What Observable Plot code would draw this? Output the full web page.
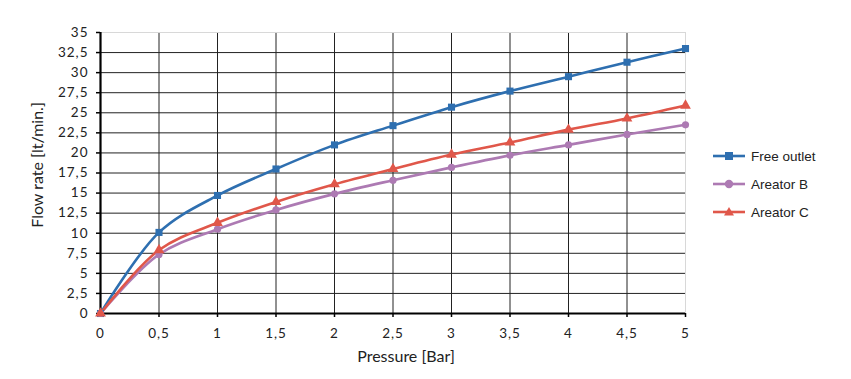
<!DOCTYPE html>
<html>
<head>
<meta charset="utf-8">
<script src="https://cdn.jsdelivr.net/npm/d3@7"></script>
<script src="https://cdn.jsdelivr.net/npm/@observablehq/plot@0.6"></script>
<style>
  html, body { margin: 0; padding: 0; background: #fff; }
  #wrap { position: relative; width: 851px; height: 379px; }
  #legend { position: absolute; left: 713px; top: 142px; font-family: "Liberation Sans", Arial, sans-serif; font-size: 13.5px; color: #222; }
  .row { display: flex; align-items: center; height: 28px; }
  .row svg { margin-right: 6px; }
  g[aria-label="x-axis tick label"] text, g[aria-label="y-axis tick label"] text { letter-spacing: 1px; }
</style>
</head>
<body>
<div id="wrap"><div id="legend"></div></div>
<script>
const pressure   = [0, 0.5, 1, 1.5, 2, 2.5, 3, 3.5, 4, 4.5, 5];
const freeOutlet = [0, 10.1, 14.7, 18.0, 21.0, 23.4, 25.7, 27.7, 29.5, 31.3, 33.0];
const areatorB   = [0, 7.35, 10.5, 12.9, 14.9, 16.6, 18.2, 19.7, 21.0, 22.3, 23.5];
const areatorC   = [0, 7.9, 11.3, 13.9, 16.1, 18.0, 19.8, 21.3, 22.9, 24.3, 25.9];
const seriesNames = ["Free outlet", "Areator B", "Areator C"];
const seriesColors = ["#2e6fb0", "#ad7ab3", "#e0574a"];
const seriesSymbols = ["square", "circle", "triangle"];
const xTicks = [0, 0.5, 1, 1.5, 2, 2.5, 3, 3.5, 4, 4.5, 5];
const yTicks = [0, 2.5, 5, 7.5, 10, 12.5, 15, 17.5, 20, 22.5, 25, 27.5, 30, 32.5, 35];
const xLabel = "Pressure [Bar]";
const yLabel = "Flow rate [lt/min.]";

const seriesValues = [freeOutlet, areatorB, areatorC];
const data = seriesValues.flatMap((vals, i) =>
  pressure.map((p, j) => ({ series: seriesNames[i], x: p, y: vals[j] })));
const fmt = d => String(d).replace(".", ",");

const chart = Plot.plot({
  width: 851,
  height: 379,
  marginLeft: 100,
  marginRight: 166,
  marginTop: 32,
  marginBottom: 66,
  style: { fontFamily: "Lato, sans-serif", fontSize: "13.5px", color: "#222", background: "#fff" },
  x: { domain: [0, 5], ticks: xTicks, tickFormat: fmt, label: null },
  y: { domain: [0, 35], ticks: yTicks, tickFormat: fmt, label: null },
  marks: [
    Plot.gridX(xTicks.filter(d => d > 0 && d < 5), { stroke: "#222", strokeOpacity: 1, strokeWidth: 1 }),
    Plot.gridY(yTicks.filter(d => d > 0 && d < 35), { stroke: "#222", strokeOpacity: 1, strokeWidth: 1 }),
    Plot.ruleY([35], { stroke: "#d8d8d8", strokeWidth: 1 }),
    Plot.ruleX([5], { stroke: "#d8d8d8", strokeWidth: 1 }),
    Plot.axisX({ ticks: xTicks, tickFormat: fmt, tickSize: 4, tickPadding: 11, stroke: "#000", strokeWidth: 1.5, label: null }),
    Plot.axisY({ ticks: yTicks, tickFormat: fmt, tickSize: 4, tickPadding: 8, stroke: "#000", strokeWidth: 1.5, label: null }),
    Plot.ruleX([0], { stroke: "#000", strokeWidth: 2.2 }),
    Plot.ruleY([0], { stroke: "#000", strokeWidth: 2.2 }),
    ...seriesNames.map((name, i) =>
      Plot.line(data.filter(d => d.series === name), { x: "x", y: "y", stroke: seriesColors[i], strokeWidth: 2.6, curve: "catmull-rom" })),
    ...seriesNames.map((name, i) =>
      Plot.dot(data.filter(d => d.series === name), { x: "x", y: "y", fill: seriesColors[i], stroke: "none", symbol: seriesSymbols[i], r: i === 1 ? 3.6 : 4 })),
    Plot.text([xLabel], { frameAnchor: "bottom", textAnchor: "middle", dy: 48, dx: 13, fontSize: 16, fill: "#222" }),
    Plot.text([yLabel], { frameAnchor: "left", textAnchor: "middle", dx: -63, dy: -8, rotate: -90, fontSize: 16, fill: "#222" })
  ]
});
document.getElementById("wrap").prepend(chart);

const legend = document.getElementById("legend");
const sym = { square: "M-4,-4h8v8h-8z", triangle: "M0,-5L5,3.5H-5Z" };
seriesNames.forEach((name, i) => {
  const row = document.createElement("div");
  row.className = "row";
  const s = seriesSymbols[i];
  const mk = s === "circle"
    ? `<circle cx="16" cy="8" r="4.2" fill="${seriesColors[i]}"/>`
    : `<path transform="translate(16,8)" d="${sym[s]}" fill="${seriesColors[i]}"/>`;
  row.innerHTML = `<svg width="32" height="16"><line x1="0" x2="32" y1="8" y2="8" stroke="${seriesColors[i]}" stroke-width="2.6"/>${mk}</svg><span>${name}</span>`;
  legend.appendChild(row);
});
</script>
</body>
</html>
